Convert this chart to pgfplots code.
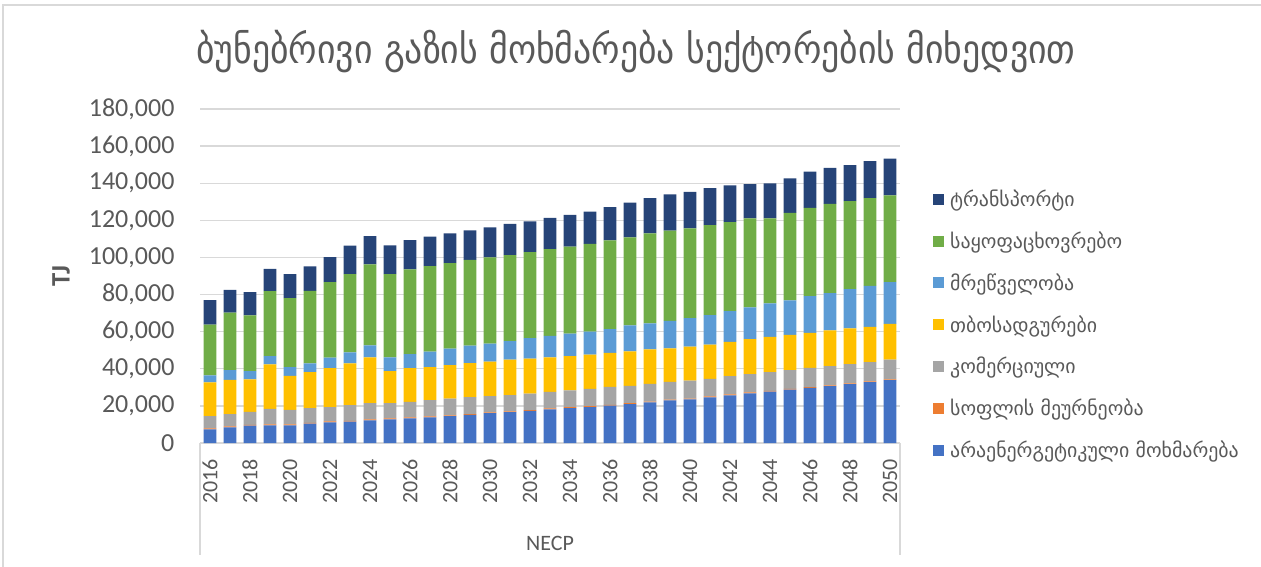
\documentclass[border=0pt]{standalone}
\usepackage{pgfplots}
\usepackage{pgfplotstable}
\pgfplotsset{compat=1.18}
\usepackage{fontspec}
\setmainfont{Carlito}
\newfontfamily\geo{DejaVu Sans}
\newfontfamily\geoc{DejaVu Sans Condensed}
\definecolor{txt}{HTML}{595959}
\definecolor{cNavy}{HTML}{264478}
\definecolor{cGreen}{HTML}{70AD47}
\definecolor{cLBlue}{HTML}{5B9BD5}
\definecolor{cYellow}{HTML}{FFC000}
\definecolor{cGray}{HTML}{A5A5A5}
\definecolor{cOrange}{HTML}{ED7D31}
\definecolor{cBlue}{HTML}{4472C4}
\definecolor{gridc}{HTML}{D9D9D9}

\pgfplotstableread{
year a b c d e f g
2016 7380 450 6590 18200 3780 27390 13160
2017 8470 450 6580 18560 5220 31000 12250
2018 9370 450 6940 17480 4500 30100 12430
2019 9550 450 8380 23970 4500 34960 12070
2020 9550 450 7840 18380 4680 37130 12970
2021 10450 450 7840 19460 4690 39100 13150
2022 11170 450 7660 21080 5590 40730 13510
2023 11530 450 8380 22530 5940 42170 15320
2024 12250 450 8740 24690 6490 43610 15310
2025 12790 450 8200 17300 7390 44870 15500
2026 13330 450 8380 18200 7570 45590 15860
2027 13870 450 8740 17840 8290 46130 15860
2028 14420 450 9100 18020 8830 46130 16040
2029 15140 450 9100 18380 9370 46310 15860
2030 16040 450 8740 18560 9730 46490 16220
2031 16580 450 8740 19100 10090 46310 16760
2032 17300 450 8920 18740 11170 46310 16580
2033 18150 450 8940 18600 11560 46780 16790
2034 18820 450 9150 18460 12130 46880 17010
2035 19370 450 9320 18460 12490 47240 17380
2036 20090 450 9690 18280 12850 47780 17920
2037 21000 450 9320 18640 13940 47420 18830
2038 21900 450 9510 18640 13940 48500 19010
2039 22990 450 9500 18100 14840 48510 19550
2040 23530 450 9690 18280 15380 48330 19730
2041 24620 450 9500 18460 15930 48510 19910
2042 25700 450 9870 18460 16650 47970 19730
2043 26790 450 9870 18820 17190 47970 18460
2044 27690 450 10050 19010 18100 45790 18820
2045 28780 450 10050 19000 18650 47060 18640
2046 29680 450 10410 18830 19730 47600 19550
2047 30590 450 10410 19190 20090 48140 19370
2048 31680 450 10410 19180 21180 47500 19400
2049 32760 450 10410 19010 22080 47300 19950
2050 33850 450 10590 19370 22440 46700 19800
}\data

\begin{document}
\begin{tikzpicture}
\begin{scope}[x=0.75pt,y=-0.75pt]
\useasboundingbox (0,0) rectangle (1261,567);
\draw[gridc, line width=1.2pt] (3,567) -- (3,5) -- (1261,5);
\node[font=\geoc\fontsize{29.8}{32}\selectfont, text=txt] at (636,52) {ბუნებრივი გაზის მოხმარება სექტორების მიხედვით};
\node[font=\bfseries\fontsize{20}{22}\selectfont, text=txt, rotate=90] at (61,276) {TJ};
\node[font=\fontsize{16.5}{18}\selectfont, text=txt] at (550,543) {NECP};
\draw[gridc, line width=1pt] (200,443) -- (200,555);
\draw[gridc, line width=1pt] (900,443) -- (900,555);
\end{scope}
\begin{axis}[
  anchor=south west, at={(150pt,-332.25pt)},
  scale only axis, width=525pt, height=250.5pt,
  ybar stacked, bar width=9.5pt,
  xmin=2015.5, xmax=2050.5, ymin=0, ymax=180000,
  xtick={2016,2018,...,2050},
  ytick={0,20000,...,180000},
  scaled y ticks=false,
  major tick length=0pt,
  axis x line*=bottom, axis y line*=left,
  x axis line style={gridc, line width=1pt, -},
  y axis line style={draw=none},
  ymajorgrids, grid style={gridc, line width=1pt},
  x tick label style={rotate=90, anchor=east, inner sep=0pt, yshift=0pt, xshift=0pt,
     font=\fontsize{16.5}{18}\selectfont, text=txt, /pgf/number format/1000 sep={}},
  xticklabel shift=12pt,
  y tick label style={anchor=east, inner sep=0pt, font=\fontsize{19.5}{20}\selectfont, text=txt,
     /pgf/number format/fixed, /pgf/number format/1000 sep={,}},
  yticklabel shift=19pt,
  /pgf/number format/assume math mode=true,
  reverse legend,
  legend cell align=left,
  legend style={at={(1.047,0.793)}, anchor=north west, draw=none, fill=none,
     font=\geo\fontsize{14.9}{15}\selectfont, text=txt, inner sep=0pt, row sep=0pt,
     nodes={inner sep=0pt, minimum height=31.35pt},
     /tikz/every odd column/.append style={column sep=4.5pt}},
  legend image code/.code={\fill[#1] (0pt,-4.125pt) rectangle (8.25pt,4.125pt);},
]
\addplot[fill=cBlue, draw=none] table[x=year,y=a]{\data};
\addplot[fill=cOrange, draw=none] table[x=year,y=b]{\data};
\addplot[fill=cGray, draw=none] table[x=year,y=c]{\data};
\addplot[fill=cYellow, draw=none] table[x=year,y=d]{\data};
\addplot[fill=cLBlue, draw=none] table[x=year,y=e]{\data};
\addplot[fill=cGreen, draw=none] table[x=year,y=f]{\data};
\addplot[fill=cNavy, draw=none] table[x=year,y=g]{\data};
\legend{არაენერგეტიკული მოხმარება, სოფლის მეურნეობა, კომერციული, თბოსადგურები, მრეწველობა, საყოფაცხოვრებო, ტრანსპორტი}
\end{axis}
\end{tikzpicture}
\end{document}
